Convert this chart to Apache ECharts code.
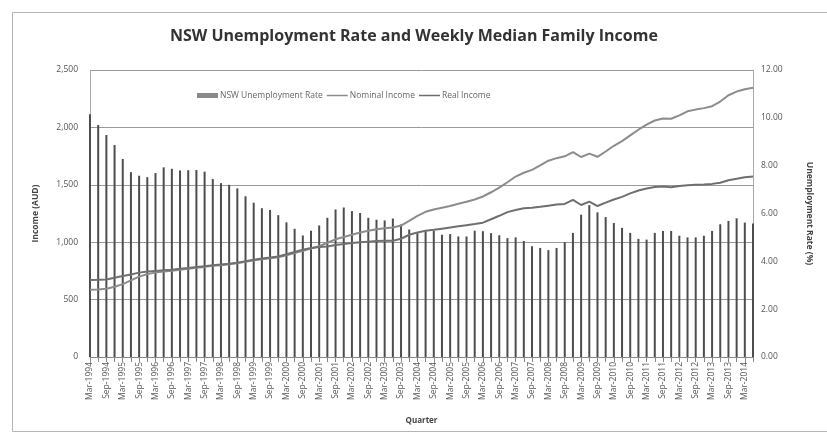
<!DOCTYPE html>
<html>
<head>
<meta charset="utf-8">
<script src="https://cdn.jsdelivr.net/npm/echarts@6/dist/echarts.min.js"></script>
<style>
html,body{margin:0;padding:0;background:#fff;}
#chart{width:827px;height:436px;}
</style>
</head>
<body>
<div id="chart"></div>
<script>
const quarters = [
 'Mar-1994','Jun-1994','Sep-1994','Dec-1994','Mar-1995','Jun-1995','Sep-1995','Dec-1995',
 'Mar-1996','Jun-1996','Sep-1996','Dec-1996','Mar-1997','Jun-1997','Sep-1997','Dec-1997',
 'Mar-1998','Jun-1998','Sep-1998','Dec-1998','Mar-1999','Jun-1999','Sep-1999','Dec-1999',
 'Mar-2000','Jun-2000','Sep-2000','Dec-2000','Mar-2001','Jun-2001','Sep-2001','Dec-2001',
 'Mar-2002','Jun-2002','Sep-2002','Dec-2002','Mar-2003','Jun-2003','Sep-2003','Dec-2003',
 'Mar-2004','Jun-2004','Sep-2004','Dec-2004','Mar-2005','Jun-2005','Sep-2005','Dec-2005',
 'Mar-2006','Jun-2006','Sep-2006','Dec-2006','Mar-2007','Jun-2007','Sep-2007','Dec-2007',
 'Mar-2008','Jun-2008','Sep-2008','Dec-2008','Mar-2009','Jun-2009','Sep-2009','Dec-2009',
 'Mar-2010','Jun-2010','Sep-2010','Dec-2010','Mar-2011','Jun-2011','Sep-2011','Dec-2011',
 'Mar-2012','Jun-2012','Sep-2012','Dec-2012','Mar-2013','Jun-2013','Sep-2013','Dec-2013',
 'Mar-2014','Jun-2014'
];

const unemploymentRate = [
 10.15, 9.7, 9.28, 8.86, 8.28, 7.73, 7.58, 7.52, 7.69, 7.93,
 7.87, 7.8, 7.81, 7.82, 7.75, 7.44, 7.27, 7.2, 7.05, 6.72,
 6.45, 6.22, 6.15, 5.93, 5.63, 5.36, 5.08, 5.28, 5.5, 5.82,
 6.17, 6.25, 6.1, 6.02, 5.82, 5.74, 5.71, 5.79, 5.54, 5.33,
 5.18, 5.26, 5.28, 5.11, 5.14, 5.04, 5.04, 5.28, 5.26, 5.18,
 5.09, 4.97, 5.0, 4.85, 4.63, 4.56, 4.47, 4.56, 4.8, 5.19,
 5.95, 6.35, 6.05, 5.85, 5.6, 5.4, 5.19, 4.94, 4.91, 5.19,
 5.27, 5.27, 5.07, 5.0, 5.0, 5.07, 5.27, 5.55, 5.69, 5.8,
 5.62, 5.58
];

const nominalIncome = [
 585, 588, 595, 612, 635, 668, 700, 722, 735, 745,
 752, 760, 768, 778, 785, 795, 800, 807, 816, 829,
 842, 852, 860, 868, 885, 905, 925, 945, 965, 995,
 1025, 1045, 1065, 1085, 1100, 1112, 1122, 1128, 1145, 1185,
 1230, 1265, 1285, 1300, 1315, 1335, 1352, 1372, 1398, 1435,
 1475, 1522, 1572, 1605, 1630, 1670, 1710, 1732, 1748, 1785,
 1742, 1772, 1744, 1790, 1840, 1880, 1930, 1980, 2025, 2060,
 2078, 2075, 2105, 2140, 2155, 2168, 2185, 2225, 2280, 2312,
 2332, 2345
];

const realIncome = [
 671, 673, 676, 690, 705, 718, 735, 745, 750, 755,
 760, 768, 775, 785, 790, 800, 806, 812, 822, 835,
 848, 858, 866, 876, 895, 915, 935, 950, 958, 962,
 975, 985, 992, 1000, 1005, 1010, 1012, 1012, 1030, 1065,
 1085, 1100, 1108, 1118, 1128, 1138, 1148, 1158, 1170, 1200,
 1230, 1262, 1280, 1295, 1300, 1308, 1318, 1328, 1333, 1368,
 1324, 1353, 1315, 1345, 1372, 1395, 1425, 1450, 1468, 1480,
 1485, 1478, 1490, 1497, 1500, 1503, 1508, 1518, 1540, 1552,
 1565, 1573
];

const incomeTicks = { min: 0, max: 2500, interval: 500 };
const rateTicks = { min: 0, max: 12, interval: 2 };

const FONT = 'Open Sans';
const LINE_ICON = 'path://M0,0L42,0L42,3L0,3Z';
const chart = echarts.init(document.getElementById('chart'), null, { renderer: 'canvas' });
chart.setOption({
  backgroundColor: '#fff',
  animation: false,
  textStyle: { fontFamily: FONT },
  title: {
    text: 'NSW Unemployment Rate and Weekly Median Family Income',
    left: 165, top: 23,
    textStyle: { fontFamily: FONT, fontSize: 16, fontWeight: 'bold', color: '#333' }
  },
  graphic: [{
    type: 'rect', silent: true,
    shape: { x: 12.5, y: 12.5, width: 830, height: 419 },
    style: { fill: 'none', stroke: '#b5b5b5', lineWidth: 1 }
  }],
  legend: {
    left: 192, top: 86,
    itemGap: 4, itemWidth: 21, itemHeight: 5,
    textStyle: { fontFamily: FONT, fontSize: 8.5, color: '#666', padding: [0, 0, 0, -3] },
    data: [
      { name: 'NSW Unemployment Rate', icon: 'rect', itemStyle: { color: '#8a8a8a' } },
      { name: 'Nominal Income', icon: LINE_ICON, itemStyle: { color: '#8c8c8c' } },
      { name: 'Real Income', icon: LINE_ICON, itemStyle: { color: '#6f6f6f' } }
    ]
  },
  grid: { left: 90, right: 74, top: 70, bottom: 79 },
  xAxis: {
    type: 'category',
    data: quarters,
    boundaryGap: false,
    name: 'Quarter',
    nameLocation: 'middle',
    nameGap: 60,
    nameTextStyle: { fontFamily: FONT, fontSize: 8, fontWeight: 'bold', color: '#444' },
    axisLine: { lineStyle: { color: '#888', width: 1 } },
    axisTick: { show: true, interval: 0, length: 5, lineStyle: { color: '#888' } },
    axisLabel: { interval: 1, rotate: 90, fontSize: 8.5, color: '#555', margin: 5, fontFamily: FONT },
    splitLine: { show: false }
  },
  yAxis: [{
    type: 'value',
    min: incomeTicks.min, max: incomeTicks.max, interval: incomeTicks.interval,
    name: 'Income (AUD)',
    nameLocation: 'middle',
    nameGap: 50,
    nameTextStyle: { fontFamily: FONT, fontSize: 8.5, fontWeight: 'bold', color: '#444' },
    axisLine: { show: true, lineStyle: { color: '#aaa' } },
    axisTick: { show: false },
    axisLabel: {
      fontSize: 8.5, color: '#555', margin: 12, fontFamily: FONT,
      formatter: v => v.toLocaleString('en-US')
    },
    splitLine: { show: true, lineStyle: { color: '#9a9a9a', width: 1 } }
  }, {
    type: 'value',
    min: rateTicks.min, max: rateTicks.max, interval: rateTicks.interval,
    name: 'Unemployment Rate (%)',
    nameLocation: 'middle',
    nameRotate: -90,
    nameGap: 52,
    nameTextStyle: { fontFamily: FONT, fontSize: 8.5, fontWeight: 'bold', color: '#444' },
    axisLine: { show: true, lineStyle: { color: '#aaa' } },
    axisTick: { show: false },
    axisLabel: {
      fontSize: 8.5, color: '#555', margin: 8, fontFamily: FONT,
      formatter: v => v.toFixed(2)
    },
    splitLine: { show: false }
  }],
  series: [{
    name: 'NSW Unemployment Rate',
    type: 'bar',
    yAxisIndex: 1,
    data: unemploymentRate,
    barWidth: 2,
    itemStyle: { color: '#4d4d4d' },
    z: 2
  }, {
    name: 'Nominal Income',
    type: 'line',
    yAxisIndex: 0,
    data: nominalIncome,
    symbol: 'none',
    lineStyle: { color: '#8c8c8c', width: 2 },
    itemStyle: { color: '#8c8c8c' },
    z: 3
  }, {
    name: 'Real Income',
    type: 'line',
    yAxisIndex: 0,
    data: realIncome,
    symbol: 'none',
    lineStyle: { color: '#6f6f6f', width: 2 },
    itemStyle: { color: '#6f6f6f' },
    z: 3
  }]
});
</script>
</body>
</html>
